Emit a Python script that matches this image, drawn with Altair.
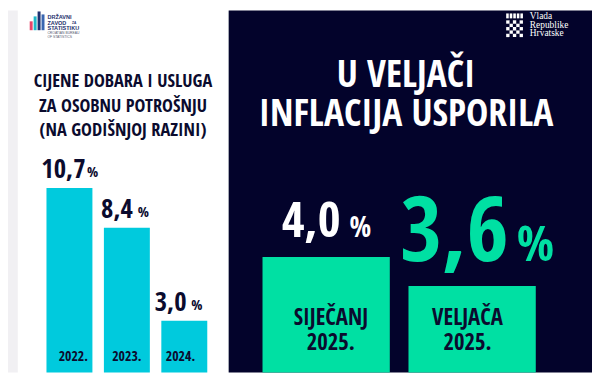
import altair as alt
import pandas as pd

# ---------------- data ----------------
years = ["2022.", "2023.", "2024."]
annual_values = [10.7, 8.4, 3.0]
annual_labels = ["10,7", "8,4", "3,0"]

months = ["SIJEČANJ", "VELJAČA"]
month_year = "2025."
monthly_values = [4.0, 3.6]
monthly_labels = ["4,0", "3,6"]

left_title = ["CIJENE DOBARA I USLUGA", "ZA OSOBNU POTROŠNJU", "(NA GODIŠNJOJ RAZINI)"]
right_title = ["U VELJAČI", "INFLACIJA USPORILA"]
dzs_lines = ["DRŽAVNI", "ZAVOD", "STATISTIKU"]
dzs_sub = ["CROATIAN BUREAU", "OF STATISTICS"]
vlada_lines = ["Vlada", "Republike", "Hrvatske"]

# ---------------- style ----------------
W, H = 592, 367
NAVY = "#03032b"
INK = "#0b0b2e"
CYAN = "#00cadd"
GREEN = "#00e0a3"
COND = "Open Sans Condensed, Roboto Condensed, sans-serif"
HEAVY = 800

annual_df = pd.DataFrame({"year": years, "value": annual_values, "label": annual_labels})
monthly_df = pd.DataFrame({
    "month": months,
    "value": monthly_values,
    "label": monthly_labels,
    "cat": [m + "\n" + month_year for m in months],
})

xa = alt.Scale(domain=years, range=[39, 202], paddingInner=0.2, paddingOuter=0)
ya = alt.Scale(domain=[0, 10.7], range=[367, 180], nice=False, zero=True)
xm = alt.Scale(domain=months, range=[258, 535], paddingInner=0.128, paddingOuter=0)
ym = alt.Scale(domain=[2.4, 4.0], range=[367, 250], nice=False, zero=False)

one = pd.DataFrame({"d": [0]})


def box(x, x2, y, y2, color):
    return alt.Chart(one).mark_rect(color=color).encode(
        x=alt.value(x), x2=alt.value(x2), y=alt.value(y), y2=alt.value(y2)
    )


def label(text, x, y, size, color, weight=HEAVY, font=COND, align="left", lh=None):
    kw = dict(text=text, fontSize=size, color=color, fontWeight=weight, font=font,
              align=align, baseline="alphabetic", lineBreak="\n")
    if lh:
        kw["lineHeight"] = lh
    return alt.Chart(one).mark_text(**kw).encode(x=alt.value(x), y=alt.value(y))


layers = []
# backgrounds
layers.append(box(0, 10, 0, H, "#f1f0f3"))
layers.append(box(10, 223, 0, H, "#ffffff"))
layers.append(box(223, 224, 0, H, "#a8acb9"))
layers.append(box(224, W, 0, H, NAVY))

# DZS logo
for (x0, x1, y0, y1, c) in [(22, 25, 11, 20, "#e8456a"), (26, 29, 6, 20, "#1fb8c8"),
                            (30, 33, 1, 20, "#1d3170"), (34, 37, 4, 20, "#3a66b0")]:
    layers.append(box(x0, x1, y0, y1, c))
layers.append(label("\n".join(dzs_lines), 40, 9, 5.6, "#1d2f6b", weight="bold",
                    font="Liberation Sans", lh=5.3))
layers.append(label("ZA", 65, 14, 3.2, "#1d2f6b", weight="bold", font="Liberation Sans"))
layers.append(label("\n".join(dzs_sub), 40, 24, 3.4, "#555a70", weight="normal",
                    font="Liberation Sans", lh=3.6))

# Vlada logo: crown + checkerboard
for i in range(5):
    layers.append(box(505 + i * 3.6, 507.6 + i * 3.6, 3, 8, "#ffffff"))
for r in range(5):
    for c in range(5):
        if (r + c) % 2 == 0:
            layers.append(box(505 + c * 3.4, 508.4 + c * 3.4, 10 + r * 3.4, 13.4 + r * 3.4, "#ffffff"))
layers.append(label("\n".join(vlada_lines), 529, 9, 9.5, "#ffffff", weight="normal",
                    font="Liberation Serif, DejaVu Serif, serif", lh=8.6))

# titles
layers.append(label("\n".join(left_title), 116.5, 78, 18.5, INK, align="center", lh=24.5))
layers.append(label("\n".join(right_title), 403.5, 77.5, 38, "#ffffff", align="center", lh=40))

# annual bars
base_a = alt.Chart(annual_df)
layers.append(base_a.mark_bar(color=CYAN).encode(
    x=alt.X("year:N", scale=xa, axis=None),
    y=alt.Y("value:Q", scale=ya, axis=None),
))
layers.append(base_a.mark_text(font=COND, fontWeight=HEAVY, fontSize=27, color=INK,
                               align="center", baseline="alphabetic", dx=-10, dy=-10).encode(
    x=alt.X("year:N", scale=xa, axis=None),
    y=alt.Y("value:Q", scale=ya, axis=None),
    text="label:N",
))
pct_dx = {"2022.": 14, "2023.": 11, "2024.": 11}
for yr in years:
    layers.append(base_a.transform_filter(alt.datum.year == yr).mark_text(
        text="%", font=COND, fontWeight=HEAVY, fontSize=15, color=INK,
        align="left", baseline="alphabetic", dx=pct_dx[yr], dy=-11).encode(
        x=alt.X("year:N", scale=xa, axis=None),
        y=alt.Y("value:Q", scale=ya, axis=None),
    ))
layers.append(base_a.mark_text(font=COND, fontWeight=HEAVY, fontSize=14, color=INK,
                               align="center", baseline="alphabetic").encode(
    x=alt.X("year:N", scale=xa, axis=None),
    y=alt.value(355),
    text="year:N",
))

# monthly bars
base_m = alt.Chart(monthly_df)
layers.append(base_m.mark_bar(color=GREEN).encode(
    x=alt.X("month:N", scale=xm, axis=None),
    y=alt.Y("value:Q", scale=ym, axis=None),
    y2=alt.datum(2.4),
))
mstyle = {
    "SIJEČANJ": dict(color="#ffffff", size=50, dx=10, dy=-20, psize=29, pdx=19),
    "VELJAČA": dict(color=GREEN, size=92, dx=42, dy=-25, psize=50, pdx=50),
}
for m in months:
    s = mstyle[m]
    sub = base_m.transform_filter(alt.datum.month == m)
    layers.append(sub.mark_text(font=COND, fontWeight=HEAVY, fontSize=s["size"], color=s["color"],
                                align="right", baseline="alphabetic", dx=s["dx"], dy=s["dy"]).encode(
        x=alt.X("month:N", scale=xm, axis=None),
        y=alt.Y("value:Q", scale=ym, axis=None),
        text="label:N",
    ))
    layers.append(sub.mark_text(text="%", font=COND, fontWeight=HEAVY, fontSize=s["psize"],
                                color=s["color"], align="left", baseline="alphabetic",
                                dx=s["pdx"], dy=s["dy"]).encode(
        x=alt.X("month:N", scale=xm, axis=None),
        y=alt.Y("value:Q", scale=ym, axis=None),
    ))
layers.append(base_m.mark_text(font=COND, fontWeight=HEAVY, fontSize=23, color=INK,
                               align="center", baseline="alphabetic", lineBreak="\n",
                               lineHeight=25).encode(
    x=alt.X("month:N", scale=xm, axis=None),
    y=alt.value(319),
    text="cat:N",
))

chart = alt.layer(*layers).resolve_scale(x="independent", y="independent").properties(
    width=W, height=H, autosize=alt.AutoSizeParams(type="none"), padding=0,
    background="#ffffff",
).configure_view(stroke=None)

chart.save("out.html", embed_options={"renderer": "svg", "actions": False})
